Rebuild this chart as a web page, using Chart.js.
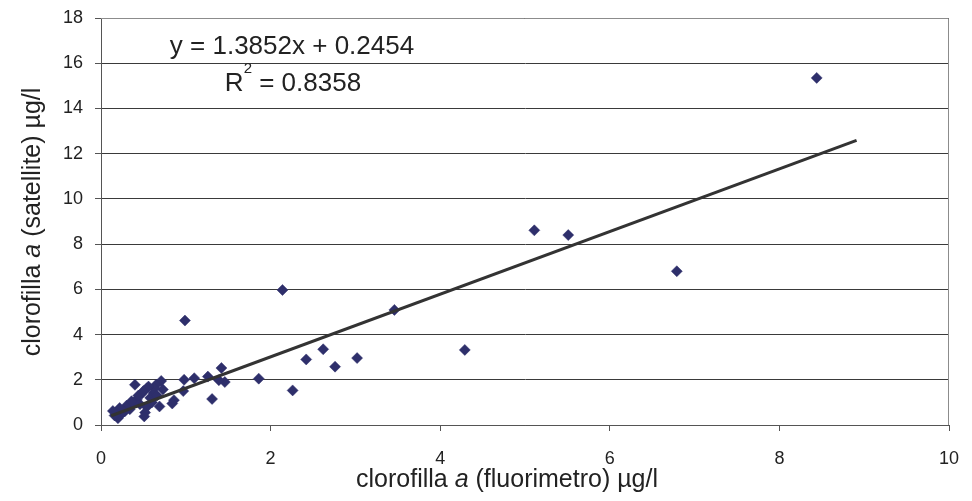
<!DOCTYPE html>
<html>
<head>
<meta charset="utf-8">
<script src="https://cdn.jsdelivr.net/npm/chart.js@4"></script>
<style>
  html, body { margin: 0; padding: 0; background: #fff; }
  #wrap { width: 972px; height: 501px; }
</style>
</head>
<body>
<div id="wrap"><canvas id="chart" width="972" height="501"></canvas></div>
<script>
// chlorophyll a: fluorimeter (x) vs satellite (y), µg/l
const fluorimetro = [
  8.44, 6.79, 5.51, 5.11, 4.29, 3.46, 3.02, 2.76, 2.62, 2.42,
  2.26, 2.14, 1.86, 1.46, 1.42, 1.39, 1.31, 1.26, 1.10, 0.99,
  0.98, 0.97, 0.86, 0.84, 0.71, 0.73, 0.69, 0.65, 0.63, 0.62,
  0.58, 0.56, 0.54, 0.54, 0.52, 0.51, 0.48, 0.46, 0.42, 0.40,
  0.38, 0.34, 0.30, 0.28, 0.24, 0.22, 0.20, 0.18, 0.16, 0.14,
  0.44, 0.50, 0.36, 0.60, 0.66
];
const satellite = [
  15.35, 6.80, 8.40, 8.61, 3.32, 5.09, 2.96, 2.58, 3.35, 2.90,
  1.53, 5.97, 2.05, 1.90, 2.52, 1.98, 1.15, 2.14, 2.07, 4.62,
  2.00, 1.50, 1.10, 0.95, 1.95, 1.57, 0.82, 1.78, 1.62, 1.42,
  1.20, 1.70, 1.62, 0.80, 0.55, 0.38, 1.38, 0.92, 1.12, 1.78,
  0.98, 0.70, 0.85, 0.60, 0.48, 0.75, 0.30, 0.55, 0.42, 0.62,
  1.30, 1.50, 1.05, 1.00, 1.30
];

// linear trendline endpoints (y = 1.3852x + 0.2454)
const trendX = [0.12, 8.91];
const trendY = [0.41, 12.59];

const equationText = 'y = 1.3852x + 0.2454';
const r2Value = ' = 0.8358';

const xTicks = [0, 2, 4, 6, 8, 10];
const yTicks = [0, 2, 4, 6, 8, 10, 12, 14, 16, 18];

const FONT = '"Liberation Sans", Arial, sans-serif';

const points = fluorimetro.map((x, i) => ({ x: x, y: satellite[i] }));
const trend = trendX.map((x, i) => ({ x: x, y: trendY[i] }));

// draws plot border, axis titles (with italic "a") and the equation
const decorations = {
  id: 'decorations',
  beforeDatasetsDraw(chart) {
    const { ctx, chartArea: a } = chart;
    ctx.save();
    ctx.strokeStyle = '#8c8c8c';
    ctx.lineWidth = 1;
    ctx.beginPath();
    ctx.moveTo(a.left, a.top + 0.5);
    ctx.lineTo(a.right - 0.5, a.top + 0.5);
    ctx.lineTo(a.right - 0.5, a.bottom);
    ctx.stroke();
    ctx.restore();
  },
  afterDraw(chart) {
    const { ctx } = chart;
    ctx.save();
    ctx.fillStyle = '#222';
    ctx.textBaseline = 'alphabetic';

    const titleParts = (mid) => [
      { t: 'clorofilla ', f: '25px ' + FONT },
      { t: 'a', f: 'italic 25px ' + FONT },
      { t: ' ' + mid + ' \u00b5g/l', f: '25px ' + FONT }
    ];
    const drawParts = (parts, cx, cy) => {
      let w = 0;
      parts.forEach(p => { ctx.font = p.f; w += ctx.measureText(p.t).width; });
      let x = cx - w / 2;
      ctx.textAlign = 'left';
      parts.forEach(p => {
        ctx.font = p.f;
        ctx.fillText(p.t, x, cy);
        x += ctx.measureText(p.t).width;
      });
    };

    // x title
    drawParts(titleParts('(fluorimetro)'), 507, 487);

    // y title
    ctx.save();
    ctx.translate(40, 222);
    ctx.rotate(-Math.PI / 2);
    drawParts(titleParts('(satellite)'), 0, 0);
    ctx.restore();

    // equation
    ctx.font = '26px ' + FONT;
    ctx.textAlign = 'center';
    ctx.fillText(equationText, 292, 54);

    const wR = ctx.measureText('R').width;
    const wV = ctx.measureText(r2Value).width;
    ctx.font = '15px ' + FONT;
    const w2 = ctx.measureText('2').width;
    let x = 293 - (wR + w2 + wV) / 2;
    ctx.textAlign = 'left';
    ctx.font = '26px ' + FONT;
    ctx.fillText('R', x, 91);
    x += wR;
    ctx.font = '15px ' + FONT;
    ctx.fillText('2', x, 73);
    x += w2;
    ctx.font = '26px ' + FONT;
    ctx.fillText(r2Value, x, 91);

    ctx.restore();
  }
};

new Chart(document.getElementById('chart'), {
  type: 'scatter',
  data: {
    datasets: [
      {
        type: 'line',
        label: 'trend',
        data: trend,
        borderColor: '#333333',
        borderWidth: 3,
        pointRadius: 0,
        fill: false,
        order: 0
      },
      {
        label: 'clorofilla',
        data: points,
        pointStyle: 'rectRot',
        pointRadius: 5.5,
        pointBackgroundColor: '#2e2f6b',
        pointBorderColor: '#2e2f6b',
        pointBorderWidth: 0.5,
        order: 1
      }
    ]
  },
  options: {
    responsive: false,
    animation: false,
    layout: { padding: { top: 18, right: 23, left: 0, bottom: 0 } },
    plugins: {
      legend: { display: false },
      tooltip: { enabled: false }
    },
    scales: {
      x: {
        type: 'linear',
        min: 0,
        max: 10,
        afterBuildTicks: (s) => { s.ticks = xTicks.map(v => ({ value: v })); },
        afterFit: (s) => { s.height = 76; s.paddingLeft = 0; s.paddingRight = 0; },
        ticks: {
          color: '#222',
          font: { family: FONT, size: 18 },
          padding: 17
        },
        grid: {
          drawOnChartArea: false,
          drawTicks: true,
          tickLength: 6,
          tickColor: '#555'
        },
        border: { color: '#555', width: 1 }
      },
      y: {
        type: 'linear',
        min: 0,
        max: 18,
        afterBuildTicks: (s) => { s.ticks = yTicks.map(v => ({ value: v })); },
        afterFit: (s) => { s.width = 101; s.paddingTop = 0; s.paddingBottom = 0; },
        ticks: {
          color: '#222',
          font: { family: FONT, size: 18 },
          padding: 12
        },
        grid: {
          color: '#3a3a3a',
          lineWidth: 1,
          drawTicks: true,
          tickLength: 6,
          tickColor: '#555'
        },
        border: { color: '#555', width: 1 }
      }
    }
  },
  plugins: [decorations]
});
</script>
</body>
</html>
